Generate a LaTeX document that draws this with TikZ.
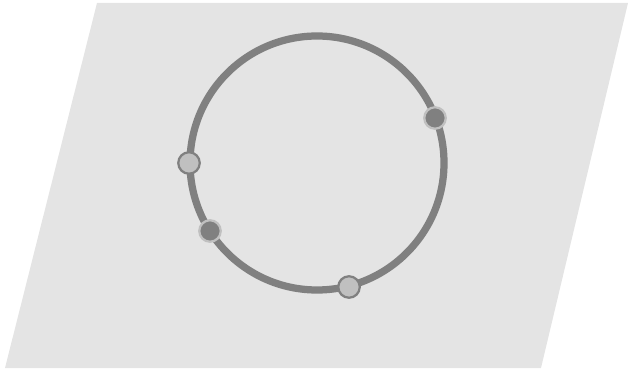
\documentclass[tikz,border=0pt]{standalone}
\usepackage{tikz}

\definecolor{planegray}{HTML}{E4E4E4}
\definecolor{ringgray}{HTML}{808080}
\definecolor{lightpt}{HTML}{C0C0C0}

\tikzset{
  ptdark/.style={circle, draw=lightpt, fill=ringgray, line width=0.045cm, minimum size=0.43cm, inner sep=0pt},
  ptlight/.style={circle, draw=ringgray, fill=lightpt, line width=0.045cm, minimum size=0.43cm, inner sep=0pt}
}

\begin{document}
\begin{tikzpicture}
  \useasboundingbox (0,0) rectangle (12.56,7.42);
  \fill[planegray] (1.94,7.36) -- (12.56,7.36) -- (10.82,0.06) -- (0.10,0.06) -- cycle;
  \node[circle, draw=ringgray, line width=0.145cm, minimum size=5.08cm, inner sep=0pt] (ring) at (6.34,4.16) {};
  \node[ptdark] (p1) at (8.70,5.06) {};
  \node[ptlight] (p2) at (3.78,4.16) {};
  \node[ptdark] (p3) at (4.20,2.80) {};
  \node[ptlight] (p4) at (6.98,1.68) {};
\end{tikzpicture}
\end{document}
